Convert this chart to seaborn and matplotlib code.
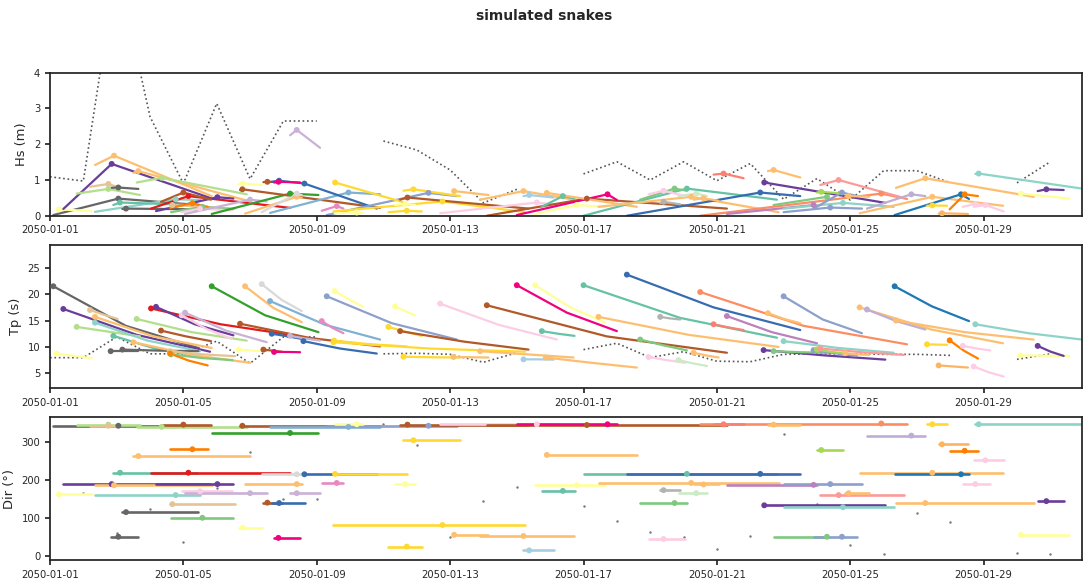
import numpy as np
import pandas as pd
import matplotlib
matplotlib.use("Agg")
import matplotlib.pyplot as plt
import matplotlib.dates as mdates
import seaborn as sns

start = pd.Timestamp("2050-01-01")
nan = np.nan

# total sea state (daily, gaps where missing)
total_day = list(range(31))
total_hs = [1.09, 0.97, 7.0, 2.77, 0.9, 3.14, 1.03, 2.65, 2.65, nan,
            2.09, 1.84, 1.28, 0.36, 0.74, nan, 1.17, 1.51, 1.0, 1.51,
            0.98, 1.46, 0.46, 1.04, 0.44, 1.26, 1.26, 0.92, nan, 0.92, 1.51]
total_tp = [7.97, 7.97, 11.9, 8.7, 8.7, 11.1, 6.9, 11.9, 11.9, nan,
            8.7, 8.8, 8.6, 7.1, 8.9, nan, 9.5, 10.7, 8.0, 9.1,
            7.3, 7.2, 8.6, 8.7, 8.7, 8.6, 8.6, 8.4, nan, 7.65, 8.7]
total_dir = [nan, 166, 59, 122, 37, 180, 274, 150, 150, nan,
             347, 291, 50, 144, 182, nan, 131, 91, 62, 50,
             17, 52, 320, 136, 27, 4, 114, 88, nan, 6, 4]

# snakes (days since 2050-01-01)
snake_color = ["#666666", "#ffff99", "#6a3d9a", "#b2df8a", "#e5c494", "#8dd3c7", "#fdbf6f", "#666666", "#66c2a5", "#666666",
               "#fdbf6f", "#b2df8a", "#e31a1c", "#6a3d9a", "#b15928", "#e5c494", "#7fc97f", "#ff7f00", "#fccde5", "#cab2d6",
               "#33a02c", "#ffff99", "#b15928", "#fdbf6f", "#d9d9d9", "#b15928", "#80b1d3", "#386cb0", "#f0027f", "#cab2d6",
               "#386cb0", "#e78ac3", "#8da0cb", "#ffd92f", "#ffd92f", "#ffff99", "#ffd92f", "#ffff99", "#b15928", "#ffd92f",
               "#fccde5", "#fdbf6f", "#fdbf6f", "#b15928", "#f0027f", "#a6cee3", "#ffff99", "#66c2a5", "#fdbf6f", "#66c2a5",
               "#fdbf6f", "#386cb0", "#7fc97f", "#fccde5", "#b3b3b3", "#ccebc5", "#fdbf6f", "#fc8d62", "#fb8072", "#bc80bd",
               "#6a3d9a", "#fdbf6f", "#7fc97f", "#8da0cb", "#8dd3c7", "#8da0cb", "#a6d854", "#fb9a99", "#fdbf6f", "#fdbf6f",
               "#beaed4", "#1f78b4", "#fdbf6f", "#ffd92f", "#fdb462", "#ff7f00", "#fccde5", "#fccde5", "#8dd3c7", "#ffff99",
               "#6a3d9a"]
t_start = [0.10, 0.20, 0.40, 0.80, 1.20, 1.35, 1.35, 1.82, 1.90, 2.17,
           2.50, 2.60, 3.03, 3.18, 3.33, 3.60, 3.63, 3.60, 3.95, 4.05,
           4.85, 5.66, 5.70, 5.85, 6.35, 6.40, 6.60, 6.65, 6.72, 7.20,
           7.60, 8.15, 8.30, 8.52, 8.50, 8.54, 10.15, 10.35, 10.50, 10.60,
           11.70, 12.10, 12.90, 13.10, 14.00, 14.20, 14.55, 14.75, 14.87, 16.00,
           16.45, 17.30, 17.70, 17.95, 18.30, 18.85, 19.30, 19.50, 19.90, 20.30,
           21.40, 21.53, 21.70, 22.00, 22.00, 22.90, 23.00, 23.10, 23.85, 24.28,
           24.50, 25.33, 25.37, 26.30, 26.65, 26.98, 27.37, 27.70, 27.75, 29.10,
           29.62]
t_peak = [2.05, 0.27, 1.85, 1.75, 1.75, 3.77, 1.92, 2.05, 2.10, 2.28,
          2.65, 3.35, 4.15, 5.02, 4.00, 3.67, 4.57, 4.27, 4.50, 6.00,
          7.20, 5.78, 5.77, 7.40, 7.40, 6.52, 8.95, 6.87, 6.85, 7.40,
          7.63, 8.60, 11.35, 8.55, 11.77, 9.20, 10.70, 10.65, 10.72, 10.90,
          14.60, 12.12, 14.20, 16.10, 16.72, 14.37, 15.80, 15.38, 14.90, 19.10,
          19.23, 21.30, 18.73, 18.40, 18.40, 19.38, 19.60, 24.93, 20.20, 22.90,
          21.42, 21.70, 23.30, 23.40, 23.78, 23.75, 23.13, 23.65, 23.95, 26.46,
          25.83, 27.32, 26.25, 26.46, 26.75, 27.43, 27.75, 28.05, 27.85, 29.12,
          29.88]
t_end = [4.45, 1.25, 4.80, 2.70, 2.03, 4.50, 4.85, 2.65, 4.40, 4.45,
         6.00, 5.90, 7.20, 5.50, 4.83, 5.55, 5.48, 4.73, 5.45, 6.50,
         8.05, 6.35, 9.90, 7.55, 7.55, 6.95, 9.90, 7.65, 7.50, 8.10,
         9.80, 8.80, 12.20, 10.70, 14.25, 9.40, 11.15, 10.95, 14.35, 12.30,
         15.20, 13.15, 15.70, 20.30, 17.00, 15.10, 16.65, 15.73, 17.60, 21.80,
         21.85, 22.50, 19.10, 19.05, 18.90, 19.70, 20.05, 25.70, 20.80, 23.00,
         25.05, 22.50, 23.35, 24.35, 25.30, 24.20, 23.78, 25.60, 24.57, 28.58,
         26.25, 27.56, 29.50, 26.90, 27.53, 27.83, 28.20, 28.60, 30.95, 30.57,
         30.40]

hs_start = [0.02, 0.16, 0.19, 0.62, 0.81, 0.11, 1.42, 0.78, 0.30, 0.19,
            1.20, 0.93, 0.20, 0.13, 0.39, 0.28, 0.10, 0.22, 0.10, 0.05,
            0.05, 0.88, 0.72, 0.06, 0.10, 0.94, 0.08, 0.95, 0.93, 2.25,
            0.90, 0.14, 0.02, 0.92, 0.12, 0.07, 0.10, 0.30, 0.45, 0.70,
            0.07, 0.68, 0.45, 0.00, 0.02, 0.55, 0.05, 0.25, 0.62, 0.00,
            0.25, 0.00, 0.45, 0.60, 0.35, 0.55, 0.45, 0.00, 1.15, 0.05,
            0.93, 1.25, 0.30, 0.10, 0.20, 0.20, 0.65, 0.86, 0.54, 0.07,
            0.20, 0.02, 0.78, 0.28, 0.06, 0.18, 0.25, 0.25, 1.17, 0.62,
            0.69]
hs_peak = [0.48, 0.18, 1.45, 0.75, 0.89, 0.46, 1.68, 0.79, 0.37, 0.20,
           1.25, 1.06, 0.55, 0.52, 0.65, 0.30, 0.25, 0.35, 0.20, 0.45,
           0.62, 0.90, 0.74, 0.53, 0.62, 0.95, 0.65, 0.98, 0.95, 2.40,
           0.90, 0.27, 0.64, 0.93, 0.40, 0.09, 0.14, 0.33, 0.51, 0.74,
           0.37, 0.69, 0.69, 0.48, 0.60, 0.58, 0.30, 0.55, 0.64, 0.76,
           0.53, 0.65, 0.76, 0.70, 0.39, 0.62, 0.49, 0.62, 1.18, 0.30,
           0.93, 1.28, 0.53, 0.23, 0.36, 0.65, 0.67, 1.00, 0.55, 0.53,
           0.60, 0.60, 1.05, 0.29, 0.07, 0.60, 0.33, 0.30, 1.18, 0.62,
           0.74]
hs_end = [0.30, 0.13, 0.50, 0.58, 0.80, 0.44, 0.55, 0.75, 0.30, 0.18,
          0.40, 0.60, 0.22, 0.48, 0.45, 0.20, 0.18, 0.25, 0.15, 0.40,
          0.58, 0.86, 0.22, 0.50, 0.58, 0.94, 0.60, 0.90, 0.93, 1.90,
          0.20, 0.20, 0.55, 0.35, 0.10, 0.08, 0.12, 0.30, 0.20, 0.55,
          0.30, 0.58, 0.45, 0.20, 0.44, 0.51, 0.25, 0.48, 0.25, 0.45,
          0.10, 0.55, 0.70, 0.55, 0.32, 0.55, 0.42, 0.47, 1.05, 0.28,
          0.36, 1.07, 0.52, 0.20, 0.25, 0.55, 0.62, 0.50, 0.53, 0.28,
          0.55, 0.47, 0.53, 0.28, 0.05, 0.55, 0.28, 0.12, 0.76, 0.48,
          0.72]

tp_start = [21.5, 8.75, 17.2, 13.8, 17.0, 14.6, 15.7, 9.2, 12.1, 9.5,
            10.9, 15.3, 17.3, 17.6, 13.1, 9.2, 8.6, 8.75, 16.0, 16.5,
            21.5, 9.5, 14.4, 21.5, 21.9, 9.5, 18.7, 12.5, 9.06, 12.1,
            11.1, 14.9, 19.6, 11.2, 10.9, 20.6, 13.8, 17.7, 13.0, 8.15,
            18.2, 8.1, 9.2, 17.9, 21.7, 7.65, 21.7, 13.0, 8.0, 21.7,
            15.7, 23.7, 11.4, 8.1, 15.7, 7.5, 8.9, 20.4, 14.3, 15.85,
            9.4, 16.4, 9.2, 19.6, 11.1, 9.4, 9.5, 9.7, 8.8, 17.5,
            17.1, 21.5, 15.0, 10.5, 6.5, 11.25, 10.2, 6.3, 14.3, 8.4,
            10.2]
tp_mid = [14.0, 8.3, 12.3, 12.9, 16.1, 11.2, 12.0, 9.2, 9.7, 9.3,
          8.5, 12.8, 14.3, 14.3, 12.0, 8.6, 7.9, 7.4, 13.4, 13.1,
          16.0, 9.35, 11.7, 17.4, 18.9, 9.3, 14.2, 12.0, 9.05, 11.6,
          9.7, 13.6, 14.5, 10.5, 9.7, 19.0, 12.9, 16.8, 11.0, 8.05,
          14.2, 8.05, 8.6, 12.0, 16.5, 7.65, 17.5, 12.5, 7.0, 15.5,
          12.3, 17.5, 10.3, 7.5, 15.4, 6.9, 8.4, 14.0, 13.7, 12.8,
          8.4, 15.3, 9.0, 15.2, 9.8, 8.8, 9.1, 9.0, 8.6, 13.3,
          14.9, 17.7, 12.8, 10.45, 6.3, 9.3, 9.7, 5.2, 12.6, 8.35,
          9.1]
tp_end = [9.8, 7.9, 9.1, 12.0, 15.3, 9.2, 9.8, 9.2, 8.3, 9.2,
          7.0, 11.2, 12.3, 12.2, 11.1, 8.25, 7.5, 6.5, 11.5, 10.9,
          12.8, 9.2, 10.1, 14.7, 16.8, 9.1, 11.4, 11.4, 9.0, 11.2,
          8.75, 12.6, 11.4, 10.1, 9.1, 17.6, 12.1, 16.0, 9.5, 8.0,
          11.4, 8.0, 8.0, 8.9, 13.0, 7.6, 14.6, 12.1, 6.1, 11.75,
          10.0, 13.2, 9.35, 7.0, 15.2, 6.4, 8.0, 10.5, 13.2, 10.7,
          7.6, 14.5, 8.9, 12.6, 8.9, 8.3, 8.8, 8.5, 8.5, 10.7,
          13.3, 14.9, 11.4, 10.4, 6.1, 7.8, 9.35, 4.4, 11.4, 8.3,
          8.3]

direction = [343, 162, 189, 346, 343, 160, 186, 50, 219, 115,
             263, 340, 219, 189, 346, 136, 100, 281, 170, 165,
             324, 74, 343, 189, 215, 140, 340, 139, 47, 165,
             215, 192, 343, 216, 81, 347, 24, 189, 346, 305,
             347, 55, 52, 345, 347, 14, 186, 171, 266, 216,
             192, 216, 139, 44, 173, 165, 188, 349, 347, 187,
             133, 346, 50, 189, 128, 50, 279, 160, 165, 219,
             317, 215, 139, 347, 294, 277, 189, 252, 347, 55,
             144]


def when(days):
    return start + pd.to_timedelta(np.asarray(days, dtype=float), unit="D")


names = [f"s{i:02d}" for i in range(len(snake_color))]
palette = dict(zip(names, snake_color))

hs_rows, tp_rows, dir_rows = [], [], []
for i, n in enumerate(names):
    t0, tk, t1 = t_start[i], t_peak[i], t_end[i]
    hs_rows += [(n, t0, hs_start[i]), (n, tk, hs_peak[i]), (n, t1, hs_end[i])]
    tp_rows += [(n, t0, tp_start[i]), (n, (t0 + t1) / 2, tp_mid[i]), (n, t1, tp_end[i])]
    dir_rows += [(n, t0, direction[i]), (n, t1, direction[i])]

hs_df = pd.DataFrame(hs_rows, columns=["snake", "day", "value"])
tp_df = pd.DataFrame(tp_rows, columns=["snake", "day", "value"])
dir_df = pd.DataFrame(dir_rows, columns=["snake", "day", "value"])
for d in (hs_df, tp_df, dir_df):
    d["time"] = when(d["day"])

hs_mark = pd.DataFrame({"snake": names, "time": when(t_peak), "value": hs_peak})
tp_mark = pd.DataFrame({"snake": names, "time": when(t_start), "value": tp_start})
dir_mark = pd.DataFrame({"snake": names, "time": when(t_peak), "value": direction})

sns.set_theme(style="ticks", rc={"axes.edgecolor": "#222222", "xtick.labelsize": 7.2,
                                 "ytick.labelsize": 7.2, "axes.labelsize": 9.4,
                                 "xtick.major.size": 3.5, "ytick.major.size": 3.5})
plt.rcParams["font.family"] = ["DejaVu Sans"]

fig, axes = plt.subplots(3, 1, figsize=(10.89, 5.85), dpi=100)
fig.subplots_adjust(left=0.0459, right=0.9936, top=0.8757, bottom=0.0419, hspace=0.205)

total_t = when(total_day)
panels = [
    (hs_df, hs_mark, total_hs, "Hs (m)", (0, 4), [0, 1, 2, 3, 4]),
    (tp_df, tp_mark, total_tp, "Tp (s)", (2.2, 29.3), [5, 10, 15, 20, 25]),
    (dir_df, dir_mark, total_dir, "Dir (°)", (-12.7, 365), [0, 100, 200, 300]),
]
for k, (ax, (lines, marks, total, label, ylim, yticks)) in enumerate(zip(axes, panels)):
    if k < 2:
        ax.plot(total_t, total, ls=":", color="#555555", lw=1.2, zorder=1)
    else:
        ax.plot(total_t, total, ls="none", marker=".", ms=1.5, color="#777777", zorder=1)
    sns.lineplot(data=lines, x="time", y="value", hue="snake", palette=palette,
                 estimator=None, sort=False, legend=False, lw=1.6 if k < 2 else 1.9, ax=ax)
    sns.scatterplot(data=marks, x="time", y="value", hue="snake", palette=palette,
                    s=18, linewidth=0, legend=False, zorder=4, ax=ax)
    ax.set_ylim(*ylim)
    ax.set_yticks(yticks)
    ax.set_xlim(start, start + pd.Timedelta(days=30.95))
    ax.xaxis.set_major_locator(mdates.DayLocator(bymonthday=[1, 5, 9, 13, 17, 21, 25, 29]))
    ax.xaxis.set_major_formatter(mdates.DateFormatter("%Y-%m-%d"))
    ax.set_xlabel("")
    ax.set_ylabel(label)

fig.suptitle("simulated snakes", fontsize=10, fontweight="bold", y=0.985)
fig.savefig("out.png", dpi=100)
